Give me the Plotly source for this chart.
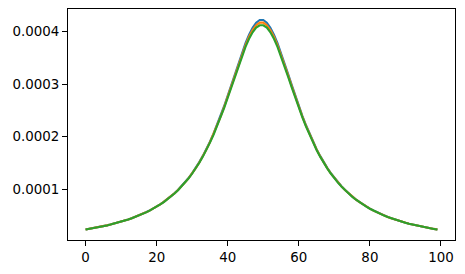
import plotly.graph_objects as go

x_values = list(range(100))

series_blue = [
    2.31e-05, 2.42e-05, 2.54e-05, 2.67e-05, 2.80e-05, 2.94e-05, 3.09e-05, 3.25e-05, 3.42e-05, 3.60e-05,
    3.79e-05, 4.00e-05, 4.22e-05, 4.46e-05, 4.71e-05, 4.98e-05, 5.27e-05, 5.59e-05, 5.92e-05, 6.28e-05,
    6.68e-05, 7.11e-05, 7.57e-05, 8.06e-05, 8.61e-05, 9.20e-05, 9.85e-05, 1.055e-04, 1.132e-04, 1.215e-04,
    1.307e-04, 1.406e-04, 1.515e-04, 1.634e-04, 1.763e-04, 1.905e-04, 2.057e-04, 2.222e-04, 2.398e-04, 2.585e-04,
    2.782e-04, 2.987e-04, 3.194e-04, 3.401e-04, 3.600e-04, 3.784e-04, 3.945e-04, 4.075e-04, 4.172e-04, 4.224e-04,
    4.224e-04, 4.172e-04, 4.075e-04, 3.945e-04, 3.784e-04, 3.600e-04, 3.401e-04, 3.194e-04, 2.987e-04, 2.782e-04,
    2.585e-04, 2.398e-04, 2.222e-04, 2.057e-04, 1.905e-04, 1.763e-04, 1.634e-04, 1.515e-04, 1.406e-04, 1.307e-04,
    1.215e-04, 1.132e-04, 1.055e-04, 9.85e-05, 9.20e-05, 8.61e-05, 8.06e-05, 7.57e-05, 7.11e-05, 6.68e-05,
    6.28e-05, 5.92e-05, 5.59e-05, 5.27e-05, 4.98e-05, 4.71e-05, 4.46e-05, 4.22e-05, 4.00e-05, 3.79e-05,
    3.60e-05, 3.42e-05, 3.25e-05, 3.09e-05, 2.94e-05, 2.80e-05, 2.67e-05, 2.54e-05, 2.42e-05, 2.31e-05,
]

series_orange = [
    2.31e-05, 2.42e-05, 2.54e-05, 2.67e-05, 2.80e-05, 2.94e-05, 3.09e-05, 3.25e-05, 3.42e-05, 3.60e-05,
    3.79e-05, 4.00e-05, 4.22e-05, 4.45e-05, 4.70e-05, 4.97e-05, 5.26e-05, 5.58e-05, 5.91e-05, 6.27e-05,
    6.67e-05, 7.10e-05, 7.56e-05, 8.05e-05, 8.59e-05, 9.18e-05, 9.83e-05, 1.052e-04, 1.128e-04, 1.211e-04,
    1.302e-04, 1.401e-04, 1.509e-04, 1.627e-04, 1.755e-04, 1.895e-04, 2.046e-04, 2.209e-04, 2.383e-04, 2.568e-04,
    2.762e-04, 2.964e-04, 3.168e-04, 3.372e-04, 3.567e-04, 3.747e-04, 3.906e-04, 4.033e-04, 4.125e-04, 4.174e-04,
    4.174e-04, 4.125e-04, 4.033e-04, 3.906e-04, 3.747e-04, 3.567e-04, 3.372e-04, 3.168e-04, 2.964e-04, 2.762e-04,
    2.568e-04, 2.383e-04, 2.209e-04, 2.046e-04, 1.895e-04, 1.755e-04, 1.627e-04, 1.509e-04, 1.401e-04, 1.302e-04,
    1.211e-04, 1.128e-04, 1.052e-04, 9.83e-05, 9.18e-05, 8.59e-05, 8.05e-05, 7.56e-05, 7.10e-05, 6.67e-05,
    6.27e-05, 5.91e-05, 5.58e-05, 5.26e-05, 4.97e-05, 4.70e-05, 4.45e-05, 4.22e-05, 4.00e-05, 3.79e-05,
    3.60e-05, 3.42e-05, 3.25e-05, 3.09e-05, 2.94e-05, 2.80e-05, 2.67e-05, 2.54e-05, 2.42e-05, 2.31e-05,
]

series_green = [
    2.30e-05, 2.41e-05, 2.53e-05, 2.66e-05, 2.79e-05, 2.93e-05, 3.08e-05, 3.24e-05, 3.41e-05, 3.59e-05,
    3.78e-05, 3.99e-05, 4.21e-05, 4.44e-05, 4.69e-05, 4.96e-05, 5.25e-05, 5.57e-05, 5.90e-05, 6.26e-05,
    6.66e-05, 7.08e-05, 7.54e-05, 8.03e-05, 8.57e-05, 9.16e-05, 9.80e-05, 1.049e-04, 1.125e-04, 1.207e-04,
    1.298e-04, 1.396e-04, 1.503e-04, 1.620e-04, 1.747e-04, 1.886e-04, 2.035e-04, 2.196e-04, 2.368e-04, 2.551e-04,
    2.742e-04, 2.941e-04, 3.142e-04, 3.342e-04, 3.534e-04, 3.711e-04, 3.866e-04, 3.991e-04, 4.079e-04, 4.124e-04,
    4.124e-04, 4.079e-04, 3.991e-04, 3.866e-04, 3.711e-04, 3.534e-04, 3.342e-04, 3.142e-04, 2.941e-04, 2.742e-04,
    2.551e-04, 2.368e-04, 2.196e-04, 2.035e-04, 1.886e-04, 1.747e-04, 1.620e-04, 1.503e-04, 1.396e-04, 1.298e-04,
    1.207e-04, 1.125e-04, 1.049e-04, 9.80e-05, 9.16e-05, 8.57e-05, 8.03e-05, 7.54e-05, 7.08e-05, 6.66e-05,
    6.26e-05, 5.90e-05, 5.57e-05, 5.25e-05, 4.96e-05, 4.69e-05, 4.44e-05, 4.21e-05, 3.99e-05, 3.78e-05,
    3.59e-05, 3.41e-05, 3.24e-05, 3.08e-05, 2.93e-05, 2.79e-05, 2.66e-05, 2.53e-05, 2.41e-05, 2.30e-05,
]

x_ticks = [0, 20, 40, 60, 80, 100]
y_ticks = [0.0001, 0.0002, 0.0003, 0.0004]
y_tick_labels = ["0.0001", "0.0002", "0.0003", "0.0004"]

fig = go.Figure()
for ys, color in [(series_blue, "#1f77b4"), (series_orange, "#ff7f0e"), (series_green, "#2ca02c")]:
    fig.add_trace(go.Scatter(x=x_values, y=ys, mode="lines",
                             line=dict(color=color, width=2.1), showlegend=False,
                             hoverinfo="skip"))

axis_common = dict(showline=True, linecolor="black", linewidth=1.1, mirror=True,
                   ticks="outside", ticklen=4.9, tickwidth=1.1, tickcolor="black",
                   showgrid=False, zeroline=False,
                   tickfont=dict(family="DejaVu Sans", size=13.4, color="black"))

fig.update_layout(
    width=465, height=274,
    margin=dict(l=68, r=10, t=9, b=34),
    paper_bgcolor="white", plot_bgcolor="white",
    xaxis=dict(range=[-4.95, 103.95], tickvals=x_ticks, **axis_common),
    yaxis=dict(range=[3.05e-06, 4.434e-04], tickvals=y_ticks, ticktext=y_tick_labels, **axis_common),
)

fig.write_html("out.html")
